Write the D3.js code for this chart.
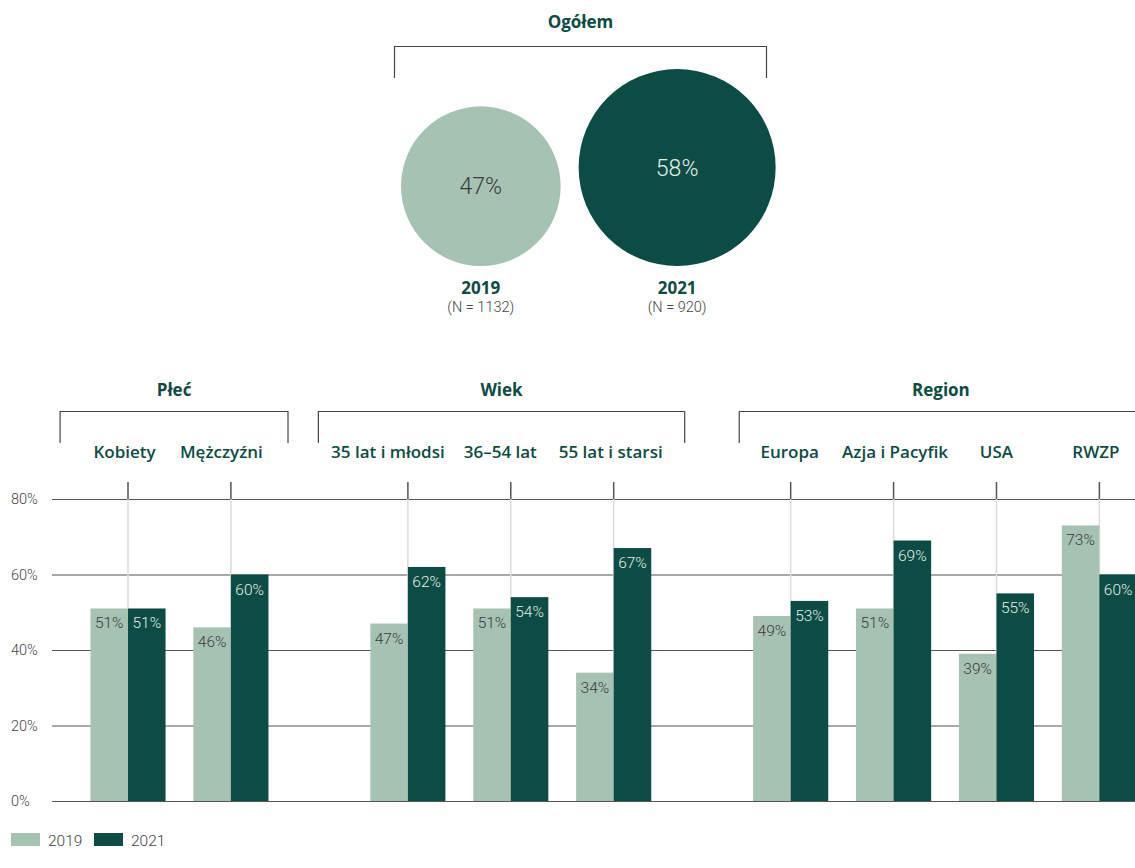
<!DOCTYPE html>
<html><head><meta charset="utf-8">
<script src="https://cdn.jsdelivr.net/npm/d3@7"></script>
<style>body{margin:0;background:#fff} svg{display:block}</style>
</head><body><svg id="c" width="1135" height="868"></svg>
<script>
// ---- data ----
const overallTitle = "Ogółem";
const overallYears = ["2019", "2021"];
const overallValues = [47, 58];
const overallN = ["(N = 1132)", "(N = 920)"];
const groups = ["Płeć", "Wiek", "Region"];
const categories = ["Kobiety", "Mężczyźni", "35 lat i młodsi", "36–54 lat", "55 lat i starsi", "Europa", "Azja i Pacyfik", "USA", "RWZP"];
const categoryGroup = [0, 0, 1, 1, 1, 2, 2, 2, 2];
const values2019 = [51, 46, 47, 51, 34, 49, 51, 39, 73];
const values2021 = [51, 60, 62, 54, 67, 53, 69, 55, 60];
const yTicks = [0, 20, 40, 60, 80];
const seriesNames = ["2019", "2021"];

// ---- layout ----
const W = 1135, H = 868;
const colLight = "#a5c2b3", colDark = "#0c4c44", textDark = "#0c4c44";
const font = "Roboto, 'Open Sans', sans-serif";
const labFont = "'Open Sans', Roboto, sans-serif";
const labelDx = [-3.5, -9.5, -20, -10.5, -3, -1, 1.5, 0, -3.5];
const svg = d3.select("#c");

// Overall circles
const r = d3.scaleLinear().domain([0, 58]).range([0, 98.5]);
const circGap = 18, circStart = 401, circBase = 266;
const cx = []; let acc = circStart;
overallValues.forEach((v, i) => { if (i > 0) acc += circGap; cx.push(acc + r(v)); acc += 2 * r(v); });
const circColors = [colLight, colDark];

svg.append("text").attr("x", 580.5).attr("y", 28).attr("text-anchor", "middle")
  .attr("font-family", labFont).attr("font-weight", 700).attr("font-size", 17).attr("fill", textDark).text(overallTitle);
svg.append("path").attr("d", `M394.5,78 V46.5 H766.5 V78`).attr("fill", "none").attr("stroke", "#444").attr("stroke-width", 1.2);

const cg = svg.append("g");
overallValues.forEach((v, i) => {
  cg.append("circle").attr("cx", cx[i]).attr("cy", circBase - r(v)).attr("r", r(v)).attr("fill", circColors[i]);
  cg.append("text").attr("x", cx[i]).attr("y", circBase - r(v) + 8).attr("text-anchor", "middle")
    .attr("font-family", font).attr("font-weight", 300).attr("font-size", 23)
    .attr("fill", i === 0 ? "#3a3a3a" : "#e4eee8").text(v + "%");
  cg.append("text").attr("x", cx[i]).attr("y", 294).attr("text-anchor", "middle")
    .attr("font-family", labFont).attr("font-weight", 700).attr("font-size", 17).attr("fill", textDark).text(overallYears[i]);
  cg.append("text").attr("x", cx[i]).attr("y", 312).attr("text-anchor", "middle")
    .attr("font-family", font).attr("font-weight", 300).attr("font-size", 14.5).attr("fill", "#444").text(overallN[i]);
});

// Bar chart
const groupGap = 0.72;
const slot = categories.map((c, i) => i + categoryGroup[i] * groupGap);
const x = d3.scaleLinear().domain([0, 1]).range([128, 230.9]);
const y = d3.scaleLinear().domain([0, 80]).range([801, 499]);
const bw = x(0.365) - x(0);
const axisLeft = 52;

// gridlines + tick labels via axis
const ax = svg.append("g").attr("transform", `translate(${axisLeft},0)`)
  .call(d3.axisLeft(y).tickValues(yTicks).tickSize(-(W - axisLeft)).tickFormat(d => d + "%"));
ax.select(".domain").remove();
ax.selectAll(".tick line").attr("stroke", "#555").attr("stroke-width", 1.2);
ax.selectAll(".tick text").attr("x", 11 - axisLeft).attr("text-anchor", "start")
  .attr("font-family", font).attr("font-weight", 300).attr("font-size", 14.5).attr("fill", "#444");

// group brackets
const groupPad = [[0.66, 0.555], [0.87, 0.69], [0.5, 0.42]];
groups.forEach((g, gi) => {
  const idx = categories.map((c, i) => i).filter(i => categoryGroup[i] === gi);
  const L = x(slot[idx[0]] - groupPad[gi][0]), R = x(slot[idx[idx.length - 1]] + groupPad[gi][1]);
  svg.append("path").attr("d", `M${L},443 V411.5 H${R} V443`).attr("fill", "none").attr("stroke", "#444").attr("stroke-width", 1.2);
  svg.append("text").attr("x", (L + R) / 2).attr("y", 396).attr("text-anchor", "middle")
    .attr("font-family", labFont).attr("font-weight", 700).attr("font-size", 17).attr("fill", textDark).text(g);
});

// category labels + center lines
categories.forEach((c, i) => {
  const cxp = x(slot[i]);
  svg.append("text").attr("x", cxp + labelDx[i]).attr("y", 458).attr("text-anchor", "middle")
    .attr("font-family", labFont).attr("font-weight", 600).attr("font-size", 17).attr("fill", textDark).text(c);
  svg.append("line").attr("x1", cxp).attr("x2", cxp).attr("y1", y(80)).attr("y2", y(0)).attr("stroke", "#dcdcdc").attr("stroke-width", 1.5);
  svg.append("line").attr("x1", cxp).attr("x2", cxp).attr("y1", 482).attr("y2", y(80)).attr("stroke", "#555").attr("stroke-width", 1.5);
});

// bars
const series = [values2019, values2021];
const sColors = [colLight, colDark];
const lblColors = ["#3a3a3a", "#e4eee8"];
series.forEach((vals, si) => {
  const g = svg.append("g");
  vals.forEach((v, i) => {
    const x0 = si === 0 ? x(slot[i]) - bw : x(slot[i]);
    g.append("rect").attr("x", x0).attr("y", y(v)).attr("width", bw).attr("height", y(0) - y(v)).attr("fill", sColors[si]);
    g.append("text").attr("x", x0 + bw / 2).attr("y", y(v) + 20).attr("text-anchor", "middle")
      .attr("font-family", font).attr("font-weight", 300).attr("font-size", 15.5).attr("fill", lblColors[si]).text(v + "%");
  });
});

// legend
const legX = [11, 94];
seriesNames.forEach((s, i) => {
  svg.append("rect").attr("x", legX[i]).attr("y", 833).attr("width", 29).attr("height", 13).attr("fill", sColors[i]);
  svg.append("text").attr("x", legX[i] + 37).attr("y", 846).attr("font-family", font).attr("font-weight", 300)
    .attr("font-size", 15.5).attr("fill", "#444").text(s);
});
</script></body></html>
